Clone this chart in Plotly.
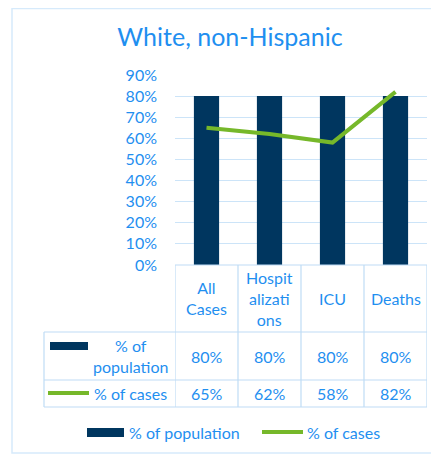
import plotly.graph_objects as go

categories = ["All Cases", "Hospitalizations", "ICU", "Deaths"]
header_labels = ["All<br>Cases", "Hospit<br>alizati<br>ons", "ICU", "Deaths"]
pct_population = [0.80, 0.80, 0.80, 0.80]
pct_cases = [0.65, 0.62, 0.58, 0.82]
y_ticks = [0, 0.1, 0.2, 0.3, 0.4, 0.5, 0.6, 0.7, 0.8, 0.9]

# the page body adds an 8px margin, so the figure is drawn 8px smaller
OFF = 8
W, H = 439 - OFF, 455 - OFF
NAVY = "#00365f"
GREEN = "#76b82a"
TXT = "#1f8ff0"
GRID = "#cce4f8"
LINE = "#bfdcf5"
FONT = "Lato"


def px(v):
    return (v - OFF) / W


def py(v):
    return 1 - (v - OFF) / H


fig = go.Figure()
fig.add_trace(go.Bar(x=categories, y=pct_population, name="% of population",
                     marker=dict(color=NAVY, line=dict(width=0))))
fig.add_trace(go.Scatter(x=categories, y=pct_cases, name="% of cases", mode="lines",
                         line=dict(color=GREEN, width=4)))

shapes = []
# outer chart border
shapes.append(dict(type="rect", xref="paper", yref="paper", x0=px(12), x1=px(460),
                   y0=py(453), y1=py(8.5), line=dict(color="#d6eafb", width=1.5)))
# table horizontal lines
shapes.append(dict(type="line", xref="paper", yref="paper", x0=px(175), x1=px(427),
                   y0=py(265), y1=py(265), line=dict(color=LINE, width=1.2)))
for yy in [332, 380, 407]:
    shapes.append(dict(type="line", xref="paper", yref="paper", x0=px(44), x1=px(427),
                       y0=py(yy), y1=py(yy), line=dict(color=LINE, width=1.2)))
# table vertical lines at category boundaries
for i in range(len(categories) + 1):
    shapes.append(dict(type="line", xref="x", yref="paper", x0=i - 0.5, x1=i - 0.5,
                       y0=py(407), y1=py(265), line=dict(color=LINE, width=1.2)))
shapes.append(dict(type="line", xref="paper", yref="paper", x0=px(44), x1=px(44),
                   y0=py(407), y1=py(332), line=dict(color=LINE, width=1.2)))
# legend keys inside table
shapes.append(dict(type="rect", xref="paper", yref="paper", x0=px(50), x1=px(88),
                   y0=py(350), y1=py(342), fillcolor=NAVY, line=dict(width=0)))
shapes.append(dict(type="line", xref="paper", yref="paper", x0=px(48), x1=px(89),
                   y0=py(393), y1=py(393), line=dict(color=GREEN, width=4)))
# bottom legend keys
shapes.append(dict(type="rect", xref="paper", yref="paper", x0=px(87), x1=px(124),
                   y0=py(437), y1=py(428), fillcolor=NAVY, line=dict(width=0)))
shapes.append(dict(type="line", xref="paper", yref="paper", x0=px(262), x1=px(303),
                   y0=py(432), y1=py(432), line=dict(color=GREEN, width=4)))

annotations = []
for cat, lab, p, c in zip(categories, header_labels, pct_population, pct_cases):
    annotations.append(dict(x=cat, xref="x", y=py(298), yref="paper", text=lab,
                            showarrow=False, xanchor="center", yanchor="middle"))
    annotations.append(dict(x=cat, xref="x", y=py(356), yref="paper", text=f"{p:.0%}",
                            showarrow=False, xanchor="center", yanchor="middle"))
    annotations.append(dict(x=cat, xref="x", y=py(393), yref="paper", text=f"{c:.0%}",
                            showarrow=False, xanchor="center", yanchor="middle"))
annotations.append(dict(x=px(130), xref="paper", y=py(356), yref="paper", xanchor="center",
                        text="% of<br>population", showarrow=False, yanchor="middle"))
annotations.append(dict(x=px(92), xref="paper", y=py(393), yref="paper", xanchor="left",
                        text="% of cases", showarrow=False, yanchor="middle"))
annotations.append(dict(x=px(127), xref="paper", y=py(432), yref="paper", xanchor="left",
                        text="% of population", showarrow=False, yanchor="middle"))
annotations.append(dict(x=px(305), xref="paper", y=py(432), yref="paper", xanchor="left",
                        text="% of cases", showarrow=False, yanchor="middle"))

fig.update_layout(
    width=W,
    height=H,
    margin=dict(l=0, r=0, t=0, b=0, autoexpand=False),
    paper_bgcolor="white",
    plot_bgcolor="white",
    showlegend=False,
    bargap=0.6,
    font=dict(family=FONT, size=16, color=TXT),
    title=dict(text="White, non-Hispanic", x=px(230), xanchor="center", y=py(37),
               yanchor="middle", font=dict(family=FONT, size=25, color=TXT)),
    xaxis=dict(domain=[px(175), px(427)], range=[-0.5, 3.5], showticklabels=False,
               showgrid=False, zeroline=False, showline=False, fixedrange=True,
               automargin=False),
    yaxis=dict(domain=[py(265), py(75)], range=[0, 0.9], tickvals=y_ticks,
               tickformat=".0%", showgrid=True, gridcolor=GRID, gridwidth=1,
               zeroline=False, showline=False, ticklabelstandoff=17, automargin=False,
               tickfont=dict(family=FONT, size=16, color=TXT)),
    shapes=shapes,
    annotations=annotations,
)

fig.write_html("out.html")
